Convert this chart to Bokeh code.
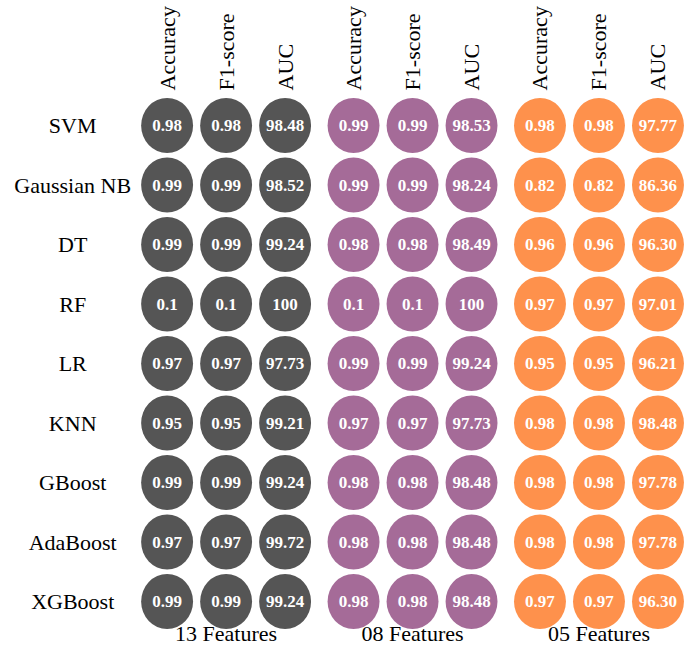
from bokeh.plotting import figure
from bokeh.models import Range1d, ColumnDataSource
from bokeh.core.properties import value
from bokeh.embed import file_html
from bokeh.resources import INLINE
import math

models = ["SVM", "Gaussian NB", "DT", "RF", "LR", "KNN", "GBoost", "AdaBoost", "XGBoost"]
metrics = ["Accuracy", "F1-score", "AUC"]
groups = ["13 Features", "08 Features", "05 Features"]
group_colors = ["#555555", "#a56b98", "#fe914c"]

acc_13 = ["0.98", "0.99", "0.99", "0.1", "0.97", "0.95", "0.99", "0.97", "0.99"]
f1_13 = ["0.98", "0.99", "0.99", "0.1", "0.97", "0.95", "0.99", "0.97", "0.99"]
auc_13 = ["98.48", "98.52", "99.24", "100", "97.73", "99.21", "99.24", "99.72", "99.24"]

acc_08 = ["0.99", "0.99", "0.98", "0.1", "0.99", "0.97", "0.98", "0.98", "0.98"]
f1_08 = ["0.99", "0.99", "0.98", "0.1", "0.99", "0.97", "0.98", "0.98", "0.98"]
auc_08 = ["98.53", "98.24", "98.49", "100", "99.24", "97.73", "98.48", "98.48", "98.48"]

acc_05 = ["0.98", "0.82", "0.96", "0.97", "0.95", "0.98", "0.98", "0.98", "0.97"]
f1_05 = ["0.98", "0.82", "0.96", "0.97", "0.95", "0.98", "0.98", "0.98", "0.97"]
auc_05 = ["97.77", "86.36", "96.30", "97.01", "96.21", "98.48", "97.78", "97.78", "96.30"]

table = [[acc_13, f1_13, auc_13], [acc_08, f1_08, auc_08], [acc_05, f1_05, auc_05]]

GROUP_STEP = 3.16
FONT = "Times New Roman"

xs, ys, labels, colors = [], [], [], []
for g, cols in enumerate(table):
    for m, col in enumerate(cols):
        for r, v in enumerate(col):
            xs.append(g * GROUP_STEP + m)
            ys.append(r)
            labels.append(v)
            colors.append(group_colors[g])
src = ColumnDataSource(dict(x=xs, y=ys, label=labels, color=colors))

W, H = 684, 648
x0 = -166.6 / 59.0
y0 = -125.0 / 59.5
p = figure(width=W, height=H, output_backend="svg", toolbar_location=None,
           x_range=Range1d(x0, x0 + W / 59.0),
           y_range=Range1d(y0 + H / 59.5, y0),
           min_border=0, outline_line_color=None)
p.axis.visible = False
p.grid.visible = False
p.background_fill_color = "white"
p.border_fill_color = "white"

p.ellipse(x="x", y="y", width=0.88, height=0.925, source=src,
          fill_color="color", line_color=None)
p.text(x="x", y="y", text="label", source=src, text_color="white",
       text_font=value(FONT), text_font_style="bold", text_font_size="17px",
       text_align="center", text_baseline="middle")

# column headers
hx, ht = [], []
for g in range(len(groups)):
    for m, name in enumerate(metrics):
        hx.append(g * GROUP_STEP + m)
        ht.append(name)
p.text(x=hx, y=[-0.59] * len(hx), text=ht, angle=math.pi / 2,
       text_font=value(FONT), text_font_size="22px", text_color="black",
       text_align="left", text_baseline="middle")

# row labels
p.text(x=[-1.6] * len(models), y=list(range(len(models))), text=models,
       text_font=value(FONT), text_font_size="22px", text_color="black",
       text_align="center", text_baseline="middle")

# group labels
p.text(x=[g * GROUP_STEP + 1 for g in range(len(groups))], y=[8.74] * len(groups),
       text=groups, text_font=value(FONT), text_font_size="22px", text_color="black",
       text_align="center", text_baseline="bottom")

open("out.html", "w").write(file_html(p, INLINE))
